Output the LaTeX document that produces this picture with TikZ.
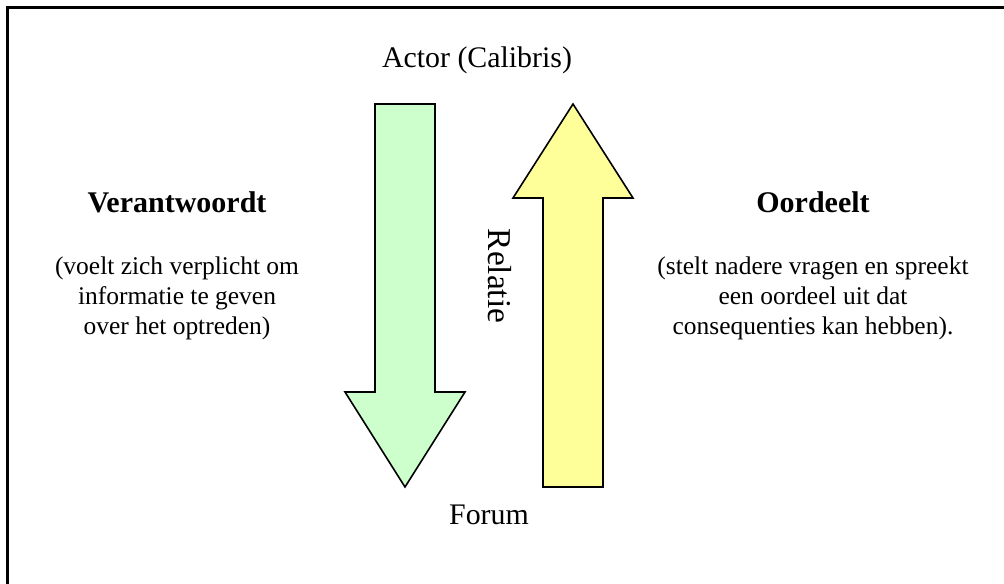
\documentclass[tikz,border=0pt]{standalone}
\usepackage{fontspec}
\setmainfont{Liberation Serif}
\begin{document}
\begin{tikzpicture}[x=0.75pt,y=-0.75pt,
  frame/.style={line width=1.6pt},
  arrowshape/.style={draw=black, line width=1.2pt, line join=miter},
  heading/.style={font=\fontsize{22.5}{27}\selectfont\bfseries, anchor=base, inner sep=0pt},
  body/.style={font=\fontsize{19.1}{22.5}\selectfont, align=center, anchor=base, inner sep=0pt},
  label/.style={font=\fontsize{22.4}{27}\selectfont, anchor=base, inner sep=0pt}]
\useasboundingbox (0,0) rectangle (1004,584);
\fill[white] (0,0) rectangle (1004,584);
\begin{scope}
  \clip (0,0) rectangle (1004,584);
  \draw[frame] (7.5,7.5) rectangle (1020,600);
\end{scope}

% downward green arrow
\path[arrowshape, fill={rgb,255:red,204;green,255;blue,204}]
  (375,104) -- (435,104) -- (435,392) -- (465,392) -- (405,487)
  -- (345,392) -- (375,392) -- cycle;
% upward yellow arrow
\path[arrowshape, fill={rgb,255:red,255;green,255;blue,153}]
  (573,104) -- (633,198) -- (603,198) -- (603,487) -- (543,487)
  -- (543,198) -- (513,198) -- cycle;

\node[label] (actor) at (477,68) {Actor (Calibris)};
\node[label] (forum) at (489,525) {Forum};
\node[label, font=\fontsize{25}{30}\selectfont, rotate=-90] (relatie) at (488,276) {Relatie};

\node[heading] (verantw) at (177,213) {Verantwoordt};
\node[body] (verantwtxt) at (177,335) {(voelt zich verplicht om\\informatie te geven\\over het optreden)};

\node[heading] (oordeel) at (813,213) {Oordeelt};
\node[body] (oordeeltxt) at (813,335) {(stelt nadere vragen en spreekt\\een oordeel uit dat\\consequenties kan hebben).};
\end{tikzpicture}
\end{document}
